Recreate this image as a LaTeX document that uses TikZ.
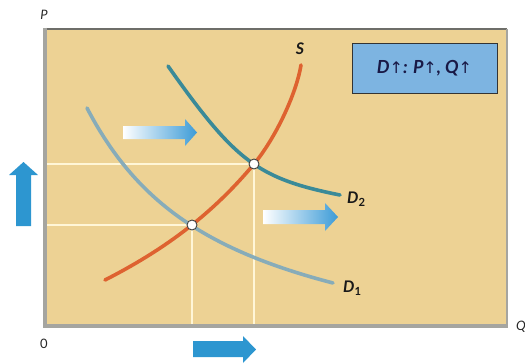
\documentclass[tikz,border=0pt]{standalone}
\usepackage{fontspec}
\setmainfont{Lato}
\newfontfamily\arrfont{DejaVu Sans}
\definecolor{tanbg}{RGB}{237,210,148}
\definecolor{axisgray}{RGB}{165,165,160}
\definecolor{framegray}{RGB}{110,110,105}
\definecolor{guide}{RGB}{255,246,215}
\definecolor{scol}{RGB}{222,98,48}
\definecolor{dtwo}{RGB}{58,138,152}
\definecolor{done}{RGB}{135,172,185}
\definecolor{solidblue}{RGB}{45,150,208}
\definecolor{gradblue}{RGB}{60,155,215}
\definecolor{boxblue}{RGB}{125,180,225}
\definecolor{navy}{RGB}{25,25,70}
\newcommand{\uparr}{{\arrfont\mdseries\upshape\fontsize{16}{16}\selectfont↑}}
\begin{document}
\begin{tikzpicture}[x=1pt,y=-1pt,
  curve/.style={line width=3.6pt,line cap=round},
  guideline/.style={guide,line width=1.2pt},
  eqpt/.style={circle,draw=black!75,fill=white,line width=0.9pt,inner sep=0pt,minimum size=10pt},
  lbl/.style={font=\bfseries\itshape\fontsize{16}{16}\selectfont,text=black!90,inner sep=0pt},
  axlbl/.style={font=\itshape\fontsize{13}{13}\selectfont,text=black!85,inner sep=0pt},
  gradarrow/.style={left color=white,right color=gradblue,draw=none},
  solidarrow/.style={fill=solidblue,draw=none}]
\useasboundingbox (0,0) rectangle (525,364);
% plot area
\fill[tanbg] (45,29) rectangle (507,325);
\draw[framegray,line width=1.2pt] (45,29) -- (507,29);
\draw[axisgray,line width=1.5pt] (507,29) -- (507,325);
\draw[axisgray,line width=4pt] (45,27.5) -- (45,326) -- (508,326);
% guides
\draw[guideline] (47,164) -- (254,164) -- (254,324);
\draw[guideline] (47,225) -- (192,225) -- (192,324);
% curves
\draw[curve,done] (87,108) .. controls (135.2,200.4) and (204,249.4) .. (333,283);
\draw[curve,dtwo] (168,66) .. controls (235.5,161.7) and (257.9,178.6) .. (340,195);
\draw[curve,scol] (105,280) .. controls (167.7,248) and (213.9,212.1) .. (254,164)
                  .. controls (275.1,138.7) and (296.3,94.1) .. (301,65);
% equilibria
\node[eqpt] (e1) at (192,225) {};
\node[eqpt] (e2) at (254,164) {};
% labels
\node[lbl] (ls) at (300,49) {S};
\node[lbl,anchor=west] (ld2) at (347,199) {D\textsubscript{\upshape 2}};
\node[lbl,anchor=west] (ld1) at (343,288) {D\textsubscript{\upshape 1}};
\node[axlbl] (lp) at (44,15) {P};
\node[axlbl] (lq) at (521,327) {Q};
\node[font=\fontsize{13}{13}\selectfont,text=black!85,inner sep=0pt] (l0) at (44,344) {0};
% box
\node[draw=black!80,line width=0.8pt,fill=boxblue,minimum width=145pt,minimum height=50pt,inner sep=0pt,
  font=\bfseries\itshape\fontsize{18}{18}\selectfont,text=navy] (box) at (424.5,68)
  {D\uparr: P\uparr, Q\uparr};
% gradient arrows
\shade[gradarrow] (123,126) -- (185,126) -- (185,119) -- (197,132.5) -- (185,146) -- (185,139) -- (123,139) -- cycle;
\shade[gradarrow] (263,210) -- (325,210) -- (325,203) -- (338,217) -- (325,231) -- (325,224) -- (263,224) -- cycle;
% solid arrows
\fill[solidarrow] (193,341) -- (243,341) -- (243,336) -- (256,349.5) -- (243,363) -- (243,357) -- (193,357) -- cycle;
\fill[solidarrow] (16,226) -- (16,175) -- (9,175) -- (23.5,162) -- (38,175) -- (31,175) -- (31,226) -- cycle;
\end{tikzpicture}
\end{document}
